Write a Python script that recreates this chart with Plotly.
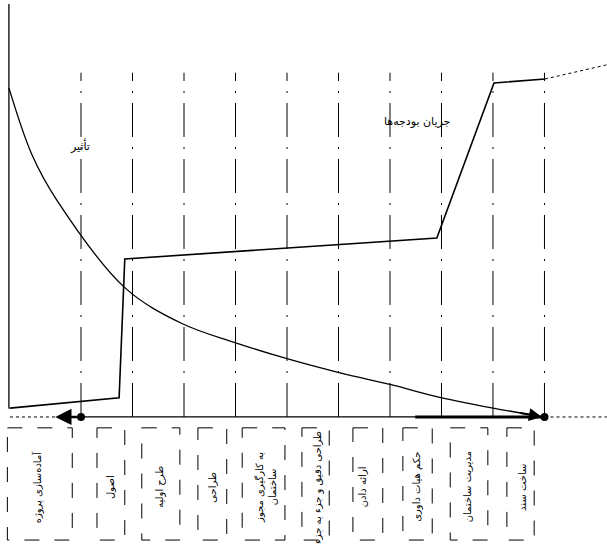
import plotly.graph_objects as go

# phase labels under the time axis (stage units, grid at 0..9)
phase_labels = [
    "آماده‌سازی پروژه",
    "اصول",
    "طرح اولیه",
    "طراحی",
    "به کارگیری مجوز<br>ساختمان",
    "طراحی دقیق و جزء به جزء",
    "ارائه دادن",
    "حکم هیات داوری",
    "مدیریت ساختمان",
    "ساخت سند",
]
phase_pos = [-0.85, 0.56, 1.53, 2.54, 3.59, 4.6, 5.46, 6.52, 7.5, 8.56]
box_left = [-1.43, 0.31, 1.18, 2.27, 3.13, 4.29, 5.28, 6.25, 7.17, 8.27]
box_right = [-0.17, 0.85, 1.92, 2.83, 3.96, 4.82, 5.86, 6.82, 7.9, 8.8]

stages = list(range(10))

# influence curve (تأثیر)
influence_x = [-1.4, -0.95, -0.47, 0.85, 1.96, 2.99, 4.0, 5.03, 6.02, 7.01, 8.0, 8.9]
influence_y = [100, 79.6, 65.9, 39.3, 28.4, 22.6, 17.7, 13.4, 9.8, 5.8, 2.7, 0.3]

# budget flow (جریان بودجه‌ها)
budget_x = [-1.38, 0.74, 0.85, 6.91, 8.02, 9.01]
budget_y = [2.7, 5.8, 48.0, 54.4, 101.5, 102.7]
budget_tail_x = [9.01, 10.21]
budget_tail_y = [102.7, 107]

font = dict(family="DejaVu Sans", size=11, color="black")
label_font = dict(family="DejaVu Sans", size=10, color="black")
fig = go.Figure()

# dashed stage lines
for s in stages:
    fig.add_trace(go.Scatter(
        x=[s, s], y=[0, 104.6], mode="lines",
        line=dict(color="black", width=1, dash="34px,10px,2px,10px"),
        hoverinfo="skip", showlegend=False,
    ))

# vertical axis
fig.add_trace(go.Scatter(
    x=[-1.4, -1.4], y=[2.5, 125.5], mode="lines",
    line=dict(color="black", width=1.3), hoverinfo="skip", showlegend=False,
))

# time axis
fig.add_trace(go.Scatter(
    x=[0, 9], y=[0, 0], mode="lines",
    line=dict(color="black", width=1.2), showlegend=False,
))
fig.add_trace(go.Scatter(
    x=[6.49, 9], y=[0, 0], mode="lines",
    line=dict(color="black", width=3), showlegend=False,
))
fig.add_trace(go.Scatter(
    x=[-1.38, -0.5], y=[0, 0], mode="lines",
    line=dict(color="black", width=1, dash="dot"), showlegend=False,
))
fig.add_trace(go.Scatter(
    x=[9, 10.21], y=[0, 0], mode="lines",
    line=dict(color="black", width=1, dash="dot"), showlegend=False,
))

# curves
fig.add_trace(go.Scatter(
    x=influence_x, y=influence_y, mode="lines", line_shape="spline",
    line=dict(color="black", width=1.3), name="تأثیر", showlegend=False,
))
fig.add_trace(go.Scatter(
    x=budget_x, y=budget_y, mode="lines",
    line=dict(color="black", width=1.6), name="جریان بودجه‌ها", showlegend=False,
))
fig.add_trace(go.Scatter(
    x=budget_tail_x, y=budget_tail_y, mode="lines",
    line=dict(color="black", width=1, dash="dot"), showlegend=False,
))

# end dots
fig.add_trace(go.Scatter(
    x=[0, 9], y=[0, 0], mode="markers",
    marker=dict(color="black", size=8), showlegend=False,
))

# arrows
fig.add_annotation(x=8.95, y=0, ax=8.5, ay=1.3, xref="x", yref="y",
                   axref="x", ayref="y", showarrow=True, arrowhead=2,
                   arrowsize=1.3, arrowwidth=2, arrowcolor="black", text="")
fig.add_annotation(x=-0.5, y=0, ax=-0.05, ay=0, xref="x", yref="y",
                   axref="x", ayref="y", showarrow=True, arrowhead=2,
                   arrowsize=1.3, arrowwidth=2.5, arrowcolor="black", text="")

# curve labels
fig.add_annotation(x=-0.02, y=82.5, text="تأثیر", showarrow=False, font=font)
fig.add_annotation(x=6.52, y=89.7, text="جریان بودجه‌ها", showarrow=False, font=font)

# phase boxes and labels
for lab, pos, l, r in zip(phase_labels, phase_pos, box_left, box_right):
    fig.add_shape(type="rect", x0=l, x1=r, y0=-3.3, y1=-37.4,
                  line=dict(color="black", width=1, dash="longdash"))
    fig.add_annotation(x=pos, y=-21.3, text=lab, textangle=-90,
                       showarrow=False, font=label_font)

fig.update_layout(
    width=607, height=544,
    margin=dict(l=0, r=0, t=0, b=0),
    paper_bgcolor="white", plot_bgcolor="white",
    xaxis=dict(range=[-1.573, 10.214], visible=False),
    yaxis=dict(range=[-38.6, 126.7], visible=False),
    showlegend=False,
)

# page body has a default margin; drop it so the figure sits at the corner
fig.write_html("out.html", config={"displayModeBar": False},
               post_script="document.body.style.margin='0';")
